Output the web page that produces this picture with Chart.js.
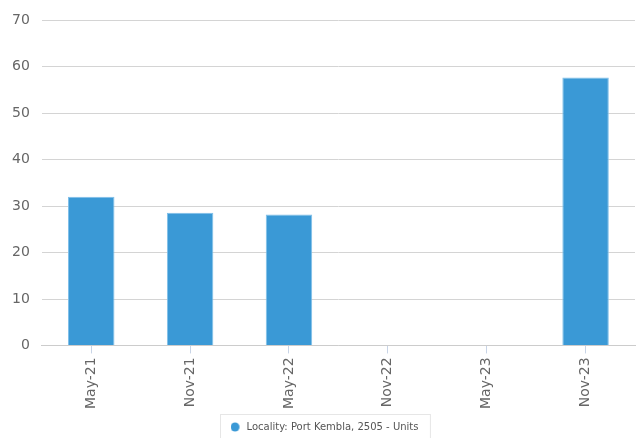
<!DOCTYPE html>
<html><head><meta charset="utf-8">
<script src="https://cdn.jsdelivr.net/npm/chart.js@4/dist/chart.umd.min.js"></script>
<style>html,body{margin:0;padding:0;background:#fff}#wrap{width:640px;height:438px}</style>
</head><body><div id="wrap"><canvas id="c" width="640" height="438"></canvas></div>
<script>
const categories = ["May-21","Nov-21","May-22","Nov-22","May-23","Nov-23"];
const seriesName = "Locality: Port Kembla, 2505 - Units";
const seriesValues = [32, 28.6, 28.2, null, null, 57.7];
const yTicks = [0,10,20,30,40,50,60,70];

const dot = document.createElement('canvas');
dot.width = 11; dot.height = 10;
(function(){const g = dot.getContext('2d'); g.fillStyle = '#3a99d6'; g.beginPath(); g.arc(4.5, 5, 4.5, 0, Math.PI*2); g.fill();})();

const legendBox = {
  id:'legendBox',
  afterLayout(chart){
    const l = chart.legend; if(!l) return;
    l.left += 7; l.right += 7;
  },
  afterDraw(chart){
    const l = chart.legend; if(!l) return;
    const ctx = chart.ctx; ctx.save();
    ctx.strokeStyle = '#e6e6e6'; ctx.lineWidth = 1;
    const w = l.legendHitBoxes[0].width + 22;
    const x = Math.round((l.left + l.right)/2 - w/2) + 0.5;
    ctx.strokeRect(x, l.top + 0.5, w, chart.height - l.top + 2);
    ctx.restore();
  }
};
Chart.defaults.font.family = "'DejaVu Sans', sans-serif";
new Chart(document.getElementById('c'), {
  type:'bar',
  data:{labels:categories, datasets:[{label:seriesName, data:seriesValues,
    backgroundColor:'#3a99d6', borderColor:'#7fbfe9', borderWidth:1, borderSkipped:'bottom',
    categoryPercentage:1, barPercentage:0.47}]},
  options:{responsive:false, animation:false,
    layout:{padding:{left:0,right:5,top:12,bottom:-4}},
    plugins:{tooltip:{enabled:false},
      legend:{position:'bottom', labels:{usePointStyle:true, pointStyle:dot, pointStyleWidth:11, boxWidth:6.4, boxHeight:6.4, color:'#555', font:{size:10}, padding:8}}},
    scales:{
      x:{grid:{display:true, offset:false, drawOnChartArea:false, tickLength:8, color:'#c8d4e6'}, border:{color:'#ccc'},
        afterFit(ax){ax.height += 1;},
        ticks:{color:'#666', font:{size:14}, minRotation:90, maxRotation:90, padding:4}},
      y:{min:0,max:70, afterBuildTicks(ax){ax.ticks = yTicks.map(v=>({value:v}));},
        grid:{color:'#d4d4d4', drawTicks:false}, border:{display:false},
        ticks:{color:'#666', font:{size:14}, padding:12}}
    }
  },
  plugins:[legendBox]
});
</script></body></html>
